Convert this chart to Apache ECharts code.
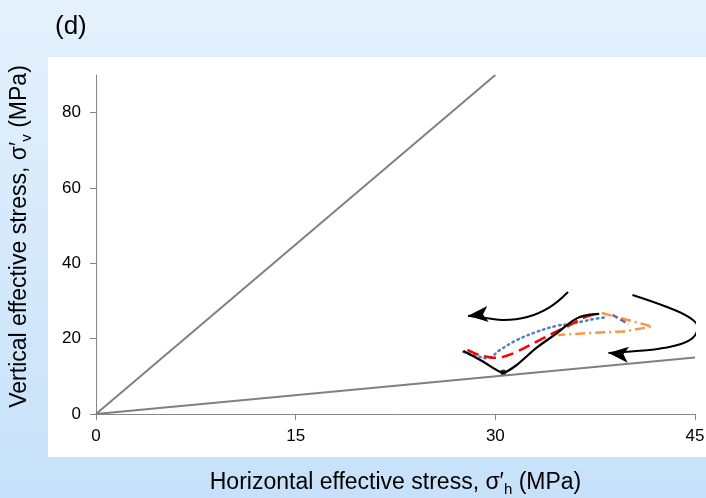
<!DOCTYPE html>
<html>
<head>
<meta charset="utf-8">
<script src="https://cdn.jsdelivr.net/npm/echarts@6/dist/echarts.min.js"></script>
<style>
  html, body { margin: 0; padding: 0; }
  #chart { width: 706px; height: 498px; }
</style>
</head>
<body>
<div id="chart"></div>
<script>
// Axis ticks
const xTicks = [0, 15, 30, 45];
const yTicks = [0, 20, 40, 60, 80];

// Stress-ratio bounds (σ'v = 3σ'h and σ'v = σ'h/3)
const upperBound = [[0, 0], [30, 90]];
const lowerBound = [[0, 0], [45, 15]];

// Stress paths [σ'h, σ'v] in MPa
const pathBlack = [[27.6, 16.7], [29.0, 14.1], [30.6, 11.0], [31.6, 13.0], [33.1, 17.6], [34.6, 21.4], [35.6, 24.2], [36.3, 25.7], [37.1, 26.4], [37.8, 26.6]];
const pathRed = [[27.9, 17.0], [28.6, 15.9], [29.4, 15.2], [30.1, 14.9], [30.8, 15.4], [31.6, 16.5], [33.1, 19.2], [34.3, 21.4], [35.6, 23.6], [36.6, 25.5], [37.6, 26.6]];
const pathBlue = [[27.6, 16.5], [28.5, 15.5], [29.4, 14.8], [30.35, 17.0], [31.6, 19.6], [33.1, 21.8], [34.6, 23.4], [35.6, 23.9], [36.6, 24.6], [37.4, 25.2], [38.3, 25.7]];
const pathOrange = [[38.0, 26.8], [41.8, 23.2], [39.6, 21.9], [37.1, 21.5], [34.7, 21.0]];
const pathPurple = [[38.8, 26.3], [40.0, 23.9]];
const minPoint = [[30.6, 11.0]];

// Direction arrows (last point = arrow tip)
const arrowLeft = [[35.46, 32.4], [34.1, 28.4], [32.4, 25.75], [30.6, 24.95], [29.4, 25.4], [27.95, 26.1]];
const arrowRight = [[40.3, 31.6], [42.9, 28.4], [44.6, 25.6], [45.2, 23.1], [44.6, 19.6], [42.6, 17.5], [40.6, 16.7], [38.5, 16.2]];

function arrowData(pts, rot) {
  return pts.map((p, i) => i === pts.length - 1
    ? { value: p, symbol: 'arrow', symbolSize: [12, 20], symbolRotate: rot, symbolKeepAspect: false }
    : { value: p, symbol: 'none' });
}

const chart = echarts.init(document.getElementById('chart'));
const font = 'Liberation Sans, Arial, sans-serif';

chart.setOption({
  animation: false,
  backgroundColor: {
    type: 'linear', x: 0, y: 0, x2: 0, y2: 1,
    colorStops: [{ offset: 0, color: '#e4f1fd' }, { offset: 1, color: '#c6e1f9' }]
  },
  textStyle: { fontFamily: font },
  graphic: [
    { type: 'rect', z: -10, left: 48, top: 57, shape: { width: 658, height: 400 }, style: { fill: '#ffffff' } },
    { type: 'text', left: 55, top: 14, style: { text: '(d)', font: '26px ' + font, fill: '#000' } }
  ],
  grid: { left: 96, right: 11, top: 75, bottom: 84, outerBoundsMode: 'none', containLabel: false },
  xAxis: {
    type: 'value', min: 0, max: 45, interval: 15,
    axisLine: { lineStyle: { color: '#868686', width: 1 } },
    axisTick: { show: true, length: 6, lineStyle: { color: '#868686' } },
    splitLine: { show: false },
    axisLabel: { color: '#000', fontSize: 17, margin: 14, customValues: xTicks },
    name: 'Horizontal effective stress, σ′{sub|h} (MPa)',
    nameLocation: 'middle', nameGap: 55,
    nameTextStyle: {
      color: '#000', fontSize: 23,
      rich: { sub: { fontSize: 15, verticalAlign: 'bottom', padding: [13, 0, 0, 0] } }
    }
  },
  yAxis: {
    type: 'value', min: 0, max: 90, interval: 20,
    axisLine: { show: true, lineStyle: { color: '#868686', width: 1 } },
    axisTick: { show: true, length: 6, lineStyle: { color: '#868686' }, customValues: yTicks },
    splitLine: { show: false },
    axisLabel: { color: '#000', fontSize: 17, margin: 15, customValues: yTicks },
    name: 'Vertical effective stress, σ′{sub|v} (MPa)',
    nameLocation: 'middle', nameGap: 62, nameRotate: 90,
    nameTextStyle: {
      color: '#000', fontSize: 23, padding: [0, 0, 0, 16],
      rich: { sub: { fontSize: 15, verticalAlign: 'bottom', padding: [13, 0, 0, 0] } }
    }
  },
  series: [
    { type: 'line', data: upperBound, symbol: 'none', lineStyle: { color: '#808080', width: 2 }, clip: false },
    { type: 'line', data: lowerBound, symbol: 'none', lineStyle: { color: '#808080', width: 2 }, clip: false },
    { type: 'line', data: pathOrange, symbol: 'none', lineStyle: { color: '#f79646', width: 2.5, type: [10, 4, 2, 4] }, clip: false },
    { type: 'line', data: pathPurple, symbol: 'none', lineStyle: { color: '#8064a2', width: 2.5, type: [6, 3] }, clip: false },
    { type: 'line', data: pathBlue, symbol: 'none', smooth: 0.4, lineStyle: { color: '#4f81bd', width: 2.5, type: [1.5, 4], cap: 'round' }, clip: false },
    { type: 'line', data: pathRed, symbol: 'none', smooth: 0.4, lineStyle: { color: '#ff0000', width: 2.5, type: [12, 6] }, clip: false },
    { type: 'line', data: pathBlack, symbol: 'none', smooth: 0.25, lineStyle: { color: '#000000', width: 2.25 }, clip: false },
    { type: 'scatter', data: minPoint, symbol: 'circle', symbolSize: 6, itemStyle: { color: '#000' }, clip: false },
    { type: 'line', data: arrowData(arrowLeft, 95), showSymbol: true, smooth: 0.4, lineStyle: { color: '#000', width: 2 }, itemStyle: { color: '#000' }, clip: false },
    { type: 'line', data: arrowData(arrowRight, 85), showSymbol: true, smooth: 0.4, lineStyle: { color: '#000', width: 2 }, itemStyle: { color: '#000' }, clip: false }
  ]
});
</script>
</body>
</html>
